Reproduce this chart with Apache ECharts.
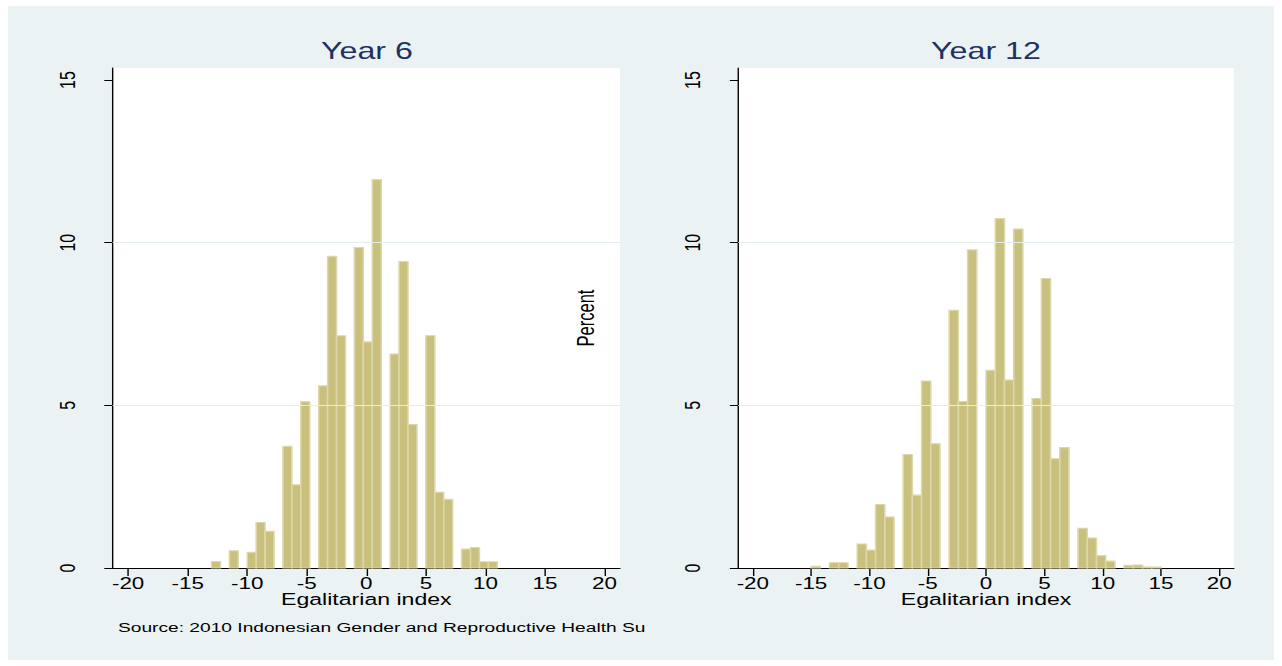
<!DOCTYPE html>
<html>
<head>
<meta charset="utf-8">
<script src="https://cdn.jsdelivr.net/npm/echarts@6/dist/echarts.min.js"></script>
<style>
html,body{margin:0;padding:0;background:#fff;width:1282px;height:666px;overflow:hidden;}
#bg{position:absolute;left:8px;top:6px;width:1266px;height:654px;background:#EAF2F3;}
#chart{position:absolute;left:0;top:0;width:916px;height:666px;transform:scaleX(1.39956);transform-origin:0 0;}
</style>
</head>
<body>
<div id="bg"></div>
<div id="chart"></div>
<script>
// ---- data ----
const panelTitles = ['Year 6', 'Year 12'];
const xTicks = [-20, -15, -10, -5, 0, 5, 10, 15, 20];
const yTicks = [0, 5, 10, 15];
const gridLineValues = [5, 10];
const xTitle = 'Egalitarian index';
const yTitle = 'Percent';
const sourceNote = 'Source: 2010 Indonesian Gender and Reproductive Health Survey';

// histogram bin edges (n+1) and bar heights in percent (n)
const year6Edges = [-13, -12.25, -11.5, -10.75, -10, -9.25, -8.5, -7.75, -7, -6.25, -5.5, -4.75,
  -4, -3.25, -2.5, -1.75, -1, -0.25, 0.5, 1.25, 2, 2.75, 3.5, 4.25, 5, 5.75, 6.5, 7.25,
  8, 8.75, 9.5, 10.25, 11];
const year6Percent = [0.2, 0, 0.53, 0, 0.48, 1.40, 1.13, 0, 3.74, 2.56, 5.11, 0,
  5.6, 9.58, 7.14, 0, 9.85, 6.95, 11.94, 0, 6.58, 9.42, 4.41, 0, 7.14, 2.33, 2.11, 0,
  0.58, 0.63, 0.19, 0.19];

const year12Edges = [-15, -14.21, -13.42, -12.63, -11.84, -11.05, -10.26, -9.47, -8.68, -7.89,
  -7.11, -6.32, -5.53, -4.74, -3.95, -3.16, -2.37, -1.58, -0.79, 0, 0.79, 1.58, 2.37, 3.16,
  3.95, 4.74, 5.53, 6.32, 7.11, 7.89, 8.68, 9.47, 10.26, 11.05, 11.84, 12.63, 13.42, 14.21, 15];
const year12Percent = [0.05, 0, 0.16, 0.16, 0, 0.74, 0.55, 1.95, 1.57, 0,
  3.49, 2.24, 5.75, 3.82, 0, 7.92, 5.12, 9.78, 0, 6.08, 10.74, 5.78, 10.42, 0,
  5.21, 8.9, 3.36, 3.7, 0, 1.22, 0.92, 0.38, 0.21, 0, 0.08, 0.09, 0.03, 0.03];

// ---- chart ----
const FONT = '"Liberation Sans", Arial, Helvetica, sans-serif';
const NAVY = '#1e3160';
const BAR_FILL = '#C8C07C';
const BAR_EDGE = '#DDD8AA';
const GRID_COLOR = '#E3ECEF';

function binData(edges, vals) {
  return vals.map((v, i) => [edges[i], edges[i + 1], v]);
}

function renderBar(params, api) {
  const h = api.value(2);
  if (!h) return null;
  const p0 = api.coord([api.value(0), h]);
  const p1 = api.coord([api.value(1), 0]);
  return {
    type: 'rect',
    shape: { x: p0[0], y: p0[1], width: p1[0] - p0[0], height: p1[1] - p0[1] },
    style: { fill: BAR_FILL, stroke: BAR_EDGE, lineWidth: 1.1 }
  };
}

function makeX(idx, lim) {
  return {
    gridIndex: idx, type: 'value', min: -lim, max: lim,
    axisLine: { show: true, onZero: false, lineStyle: { color: '#000', width: 1 } },
    axisTick: { show: true, customValues: xTicks, length: 8, lineStyle: { color: '#000', width: 1 } },
    axisLabel: { show: true, customValues: xTicks, margin: 7, fontSize: 16, color: '#000', fontFamily: FONT },
    splitLine: { show: false },
    name: xTitle, nameLocation: 'middle', nameGap: 22.5, nameMoveOverlap: false,
    nameTextStyle: { fontSize: 16.5, color: '#000', fontFamily: FONT }
  };
}

function makeY(idx, withName) {
  const ax = {
    gridIndex: idx, type: 'value', min: 0, max: 15.37,
    axisLine: { show: true, onZero: false, lineStyle: { color: '#000', width: 1 } },
    axisTick: { show: true, customValues: yTicks, length: 6, lineStyle: { color: '#000', width: 1 } },
    axisLabel: { show: true, customValues: yTicks, rotate: 90, margin: 25, fontSize: 16, color: '#000', fontFamily: FONT },
    splitLine: { show: false }
  };
  if (withName) {
    ax.name = yTitle;
    ax.nameLocation = 'middle';
    ax.nameGap = 100;
    ax.nameMoveOverlap = false;
    ax.nameTextStyle = { fontSize: 16.5, color: '#000', fontFamily: FONT };
  }
  return ax;
}

function gridSeries(idx) {
  return {
    type: 'line', xAxisIndex: idx, yAxisIndex: idx, data: [], z: 1, silent: true,
    markLine: {
      silent: true, symbol: ['none', 'none'], label: { show: false },
      lineStyle: { color: GRID_COLOR, type: 'solid', width: 1.2 },
      data: gridLineValues.map(v => ({ yAxis: v }))
    }
  };
}

const chart = echarts.init(document.getElementById('chart'), null, { renderer: 'svg' });
chart.setOption({
  animation: false,
  backgroundColor: 'transparent',
  textStyle: { fontFamily: FONT },
  grid: [
    { left: 80.5, top: 68, width: 362.5, height: 500, show: true, backgroundColor: '#fff', borderWidth: 0, containLabel: false, outerBoundsMode: 'none' },
    { left: 527.5, top: 68, width: 354.1, height: 500, show: true, backgroundColor: '#fff', borderWidth: 0, containLabel: false, outerBoundsMode: 'none' }
  ],
  xAxis: [makeX(0, 21.3), makeX(1, 21.25)],
  yAxis: [makeY(0, false), makeY(1, true)],
  graphic: [
    { type: 'text', x: 262.2, y: 51.3, style: { text: panelTitles[0], align: 'center', verticalAlign: 'middle', font: '23px ' + FONT, fill: NAVY } },
    { type: 'text', x: 704.5, y: 51.3, style: { text: panelTitles[1], align: 'center', verticalAlign: 'middle', font: '23px ' + FONT, fill: NAVY } },
    { type: 'text', x: 84.3, y: 627.5, style: { text: sourceNote, align: 'left', verticalAlign: 'middle', font: '13.7px ' + FONT, fill: '#000', width: 379.5, overflow: 'truncate', ellipsis: '' } }
  ],
  series: [
    gridSeries(0),
    gridSeries(1),
    { type: 'custom', name: panelTitles[0], xAxisIndex: 0, yAxisIndex: 0, z: 2, renderItem: renderBar,
      encode: { x: [0, 1], y: 2 }, data: binData(year6Edges, year6Percent) },
    { type: 'custom', name: panelTitles[1], xAxisIndex: 1, yAxisIndex: 1, z: 2, renderItem: renderBar,
      encode: { x: [0, 1], y: 2 }, data: binData(year12Edges, year12Percent) }
  ]
});
</script>
</body>
</html>
